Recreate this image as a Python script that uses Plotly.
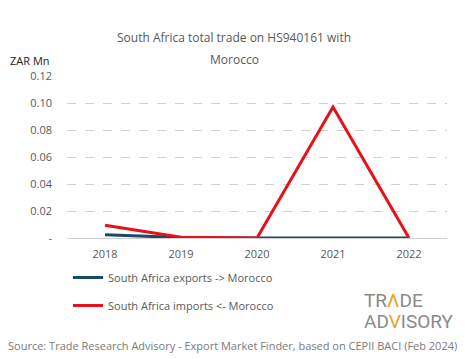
import plotly.graph_objects as go

years = ["2018", "2019", "2020", "2021", "2022"]
exports = [0.0025, 0.0003, 0.0, 0.0, 0.0]
imports = [0.0095, 0.0005, 0.0, 0.097, 0.0]
y_ticks = [0, 0.02, 0.04, 0.06, 0.08, 0.10, 0.12]
y_tick_labels = ["-", "0.02", "0.04", "0.06", "0.08", "0.10", "0.12"]

font_main = "Open Sans, Lato, sans-serif"
OFF = 8  # page body margin
W, H = 465 - OFF, 359 - OFF
L, R, T, B = 67 - OFF, 18, 76 - OFF, 359 - 238 - 0
B = H - (238 - OFF)
PW, PH = W - L - R, H - T - B


def px(x):  # page x -> paper
    return (x - OFF - L) / PW


def py(y):  # page y -> paper
    return (H - B - (y - OFF)) / PH


fig = go.Figure()
fig.add_trace(go.Scatter(x=years, y=exports, mode="lines", name="South Africa exports -> Morocco",
                         legendgroup="a", line=dict(color="#1d4a63", width=3)))
fig.add_trace(go.Scatter(x=years, y=imports, mode="lines", name="South Africa imports <- Morocco",
                         legendgroup="b", line=dict(color="#e8101a", width=3)))

fig.update_layout(
    width=W, height=H,
    paper_bgcolor="white", plot_bgcolor="white",
    margin=dict(l=L, r=R, t=T, b=B, autoexpand=False),
    font=dict(family=font_main, color="#595959", size=11),
    showlegend=True,
    legend=dict(x=px(68), y=py(263), xanchor="left", yanchor="top", orientation="v",
                font=dict(size=11, color="#595959"), tracegroupgap=9,
                itemwidth=30, bgcolor="rgba(0,0,0,0)"),
    xaxis=dict(type="category", range=[-0.5, 4.5], showgrid=False, showline=False,
               ticks="", ticklabelstandoff=8,
               tickfont=dict(size=11, color="#595959"), fixedrange=True),
    yaxis=dict(range=[0, 0.12], tickvals=y_ticks, ticktext=y_tick_labels,
               showgrid=True, gridcolor="#d0d0d0", griddash="dash", gridwidth=1,
               zeroline=True, zerolinecolor="#d0d0d0", zerolinewidth=1,
               showline=False, ticks="", ticklabelstandoff=14,
               tickfont=dict(size=11, color="#595959")),
)

fig.add_annotation(text="South Africa total trade on HS940161 with", xref="paper", yref="paper",
                   x=px(234), y=py(37), xanchor="center", yanchor="middle", showarrow=False,
                   font=dict(size=12, color="#595959"))
fig.add_annotation(text="Morocco", xref="paper", yref="paper",
                   x=px(234), y=py(59), xanchor="center", yanchor="middle", showarrow=False,
                   font=dict(size=12, color="#595959"))
fig.add_annotation(text="ZAR Mn", xref="paper", yref="paper", x=px(8), y=py(60),
                   xanchor="left", yanchor="middle", showarrow=False,
                   font=dict(size=11, color="#222222"))
fig.add_annotation(text="Source: Trade Research Advisory - Export Market Finder, based on CEPII BACI (Feb 2024)",
                   xref="paper", yref="paper", x=px(232), y=py(345), xanchor="center", yanchor="middle",
                   showarrow=False, font=dict(size=11, color="#7a7a7a"))
fig.add_annotation(text="TR<span style='color:#f0a020'>Λ</span>DE", xref="paper", yref="paper",
                   x=px(362), y=py(300), xanchor="left", yanchor="middle", showarrow=False,
                   font=dict(size=19, color="#8a8a8a", family="Roboto, sans-serif"))
fig.add_annotation(text="AD<span style='color:#f0a020'>V</span>ISORY", xref="paper", yref="paper",
                   x=px(362), y=py(321), xanchor="left", yanchor="middle", showarrow=False,
                   font=dict(size=19, color="#8a8a8a", family="Roboto, sans-serif"))

fig.write_html("out.html")
